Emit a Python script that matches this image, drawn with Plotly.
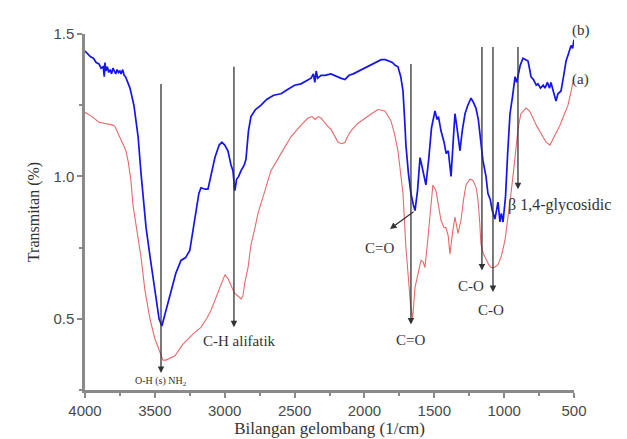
import plotly.graph_objects as go

# Blue spectrum (b)
blue_wn = [4000,3960,3940,3920,3900,3885,3870,3862,3857,3850,3840,3830,3820,3810,3800,3790,3780,3770,3760,3750,
           3742,3730,3720,3710,3700,3678,3650,3620,3599,3585,3563,3535,
           3500,3470,3450,3420,3385,3350,3313,3280,3250,3213,3185,3170,3140,3120,3100,3070,3040,3020,3000,2977,
           2955,2941,2930,2927,2915,2900,2883,2860,2848,2830,2812,2780,2740,2700,2650,2597,2550,2500,2454,2420,
           2382,2365,2355,2345,2335,2310,2282,2240,2200,2170,2140,2110,2080,2040,2000,1950,1900,1880,1850,1820,
           1800,1780,1760,1740,1724,1710,1703,1685,1667,1650,1638,1620,1602,1590,1581,1560,1540,1520,1495,1480,
           1470,1452,1430,1415,1400,1380,1365,1352,1340,1316,1300,1280,1260,1237,1220,1202,1185,1173,1160,1152,
           1130,1116,1100,1085,1066,1055,1044,1030,1020,1008,990,975,958,940,922,910,901,885,865,845,
           829,815,808,790,770,758,740,720,708,690,675,665,650,640,629,615,593,575,557,540,
           521,510,500]
blue_t = [1.44,1.42,1.415,1.40,1.395,1.38,1.385,1.35,1.40,1.37,1.385,1.365,1.375,1.36,1.38,1.37,1.36,1.375,1.365,1.37,
          1.36,1.375,1.355,1.35,1.335,1.31,1.25,1.14,1.01,0.94,0.82,0.72,
          0.60,0.50,0.475,0.53,0.60,0.66,0.705,0.715,0.74,0.86,0.94,0.96,0.955,0.955,1.00,1.066,1.11,1.12,1.11,1.09,
          1.04,1.02,0.96,0.95,0.99,1.00,1.02,1.04,1.06,1.16,1.21,1.235,1.25,1.27,1.285,1.29,1.305,1.32,1.325,1.335,
          1.345,1.36,1.33,1.37,1.345,1.355,1.355,1.36,1.35,1.345,1.34,1.355,1.36,1.37,1.38,1.39,1.405,1.41,1.41,1.405,
          1.40,1.39,1.385,1.35,1.30,1.18,1.11,1.01,0.94,0.90,0.88,0.95,1.066,1.04,1.02,0.97,1.06,1.17,1.23,1.20,
          1.21,1.16,1.12,1.08,1.09,1.00,1.12,1.22,1.18,1.09,1.16,1.22,1.25,1.275,1.26,1.24,1.20,1.14,1.10,1.056,
          1.00,0.94,0.92,0.88,0.85,0.88,0.91,0.84,0.87,0.84,0.93,1.08,1.22,1.28,1.35,1.33,1.35,1.39,1.415,1.41,
          1.405,1.37,1.35,1.34,1.32,1.325,1.31,1.32,1.31,1.33,1.31,1.33,1.30,1.28,1.265,1.29,1.30,1.35,1.405,1.43,
          1.46,1.45,1.48]

# Red spectrum (a)
red_wn = [4000,3950,3900,3857,3800,3785,3742,3707,3690,3671,3657,3642,3620,3600,3571,3535,3500,3463,3442,3420,
          3390,3356,3300,3263,3220,3170,3130,3098,3050,3020,2998,2975,2955,2930,2905,2883,2870,2855,2833,2812,
          2783,2762,2712,2669,2597,2525,2454,2404,2375,2354,2330,2311,2270,2239,2200,2189,2160,2139,2120,2096,
          2050,1996,1950,1903,1853,1810,1785,1760,1740,1724,1703,1688,1670,1655,1645,1638,1617,1595,1580,1567,
          1550,1531,1510,1488,1470,1452,1430,1416,1400,1388,1370,1352,1330,1309,1290,1273,1245,1223,1200,1187,
          1175,1166,1150,1137,1110,1094,1070,1044,1020,994,970,951,930,915,900,880,844,820,808,770,
          737,700,672,650,629,600,579,543,520,500]
red_t = [1.225,1.21,1.19,1.185,1.18,1.175,1.125,1.09,1.05,0.985,0.90,0.85,0.78,0.72,0.60,0.50,0.43,0.38,0.355,0.355,
         0.362,0.37,0.41,0.43,0.45,0.47,0.50,0.53,0.59,0.63,0.655,0.64,0.62,0.59,0.58,0.57,0.58,0.63,0.68,0.76,
         0.82,0.87,0.95,1.02,1.08,1.14,1.18,1.205,1.21,1.20,1.21,1.205,1.18,1.165,1.13,1.12,1.115,1.12,1.14,1.16,
         1.185,1.205,1.22,1.235,1.23,1.195,1.15,1.09,1.00,0.94,0.75,0.647,0.55,0.50,0.55,0.61,0.657,0.706,0.70,0.68,
         0.76,0.87,0.97,0.95,0.89,0.846,0.82,0.82,0.79,0.727,0.80,0.857,0.80,0.846,0.92,0.97,0.99,0.986,0.96,0.916,
         0.84,0.762,0.73,0.717,0.69,0.68,0.68,0.69,0.72,0.776,0.86,0.94,1.03,1.11,1.17,1.22,1.24,1.23,1.22,1.18,
         1.15,1.12,1.11,1.13,1.15,1.18,1.206,1.25,1.30,1.35]

x_tickvals = [4000, 3500, 3000, 2500, 2000, 1500, 1000, 500]
y_tickvals = [0.5, 1.0, 1.5]
y_ticktext = ["0.5", "1.0", "1.5"]

# Band markers: wavenumber, line top, arrow tip
band_wn = [3456, 2934, 1667, 1159, 1080, 901]
band_top = [1.33, 1.39, 1.40, 1.46, 1.46, 1.46]
band_tip = [0.31, 0.47, 0.48, 0.67, 0.594, 0.955]

serif = "Liberation Serif"

fig = go.Figure()
fig.add_trace(go.Scatter(x=red_wn, y=red_t, mode="lines",
                         line=dict(color="#e66a6c", width=1.1), showlegend=False))
fig.add_trace(go.Scatter(x=blue_wn, y=blue_t, mode="lines",
                         line=dict(color="#1414ee", width=1.7), showlegend=False))

for wn, top, tip in zip(band_wn, band_top, band_tip):
    fig.add_annotation(x=wn, y=tip, ax=wn, ay=top, xref="x", yref="y", axref="x", ayref="y",
                       showarrow=True, arrowhead=2, arrowsize=1, arrowwidth=1.3,
                       arrowcolor="#333333", text="")

# slanted C=O arrow
fig.add_annotation(x=1817, y=0.815, ax=1638, ay=0.88, xref="x", yref="y", axref="x", ayref="y",
                   showarrow=True, arrowhead=2, arrowsize=1, arrowwidth=1.3,
                   arrowcolor="#333333", text="")

labels = [
    (3456, 0.28, "O-H (s) NH<sub>2</sub>", 10, "center"),
    (2891, 0.423, "C-H alifatik", 15, "center"),
    (1667, 0.427, "C=O", 15, "center"),
    (1889, 0.748, "C=O", 15, "center"),
    (1237, 0.615, "C-O", 15, "center"),
    (1094, 0.53, "C-O", 15, "center"),
    (985, 0.90, "β 1,4-glycosidic", 16, "left"),
]
for x, y, t, s, anc in labels:
    fig.add_annotation(x=x, y=y, xref="x", yref="y", text=t, showarrow=False,
                       xanchor=anc, yanchor="middle",
                       font=dict(family=serif, size=s, color="#333333"))

for y, t in [(1.011, "(b)"), (0.872, "(a)")]:
    fig.add_annotation(x=0.992, y=y, xref="paper", yref="paper", text=t, showarrow=False,
                       xanchor="left", yanchor="middle",
                       font=dict(family=serif, size=15, color="#333333"))

fig.update_layout(
    width=627, height=439,
    margin=dict(l=77, r=61, t=26, b=55),
    plot_bgcolor="white", paper_bgcolor="white",
    showlegend=False,
)
fig.update_xaxes(range=[4000, 500], tickvals=x_tickvals, showgrid=False, zeroline=False,
                 showline=True, linecolor="#8a8a8a", linewidth=2.5,
                 ticks="outside", ticklen=5, tickwidth=1.5, tickcolor="#8a8a8a",
                 minor=dict(dtick=250, ticks="outside", ticklen=3, tickcolor="#8a8a8a", showgrid=False),
                 tickfont=dict(family="Liberation Sans", size=15, color="#4a4a4a"),
                 title=dict(text="Bilangan gelombang (1/cm)", standoff=4,
                            font=dict(family=serif, size=17, color="#333333")))
fig.update_yaxes(range=[0.25, 1.5], tickvals=y_tickvals, ticktext=y_ticktext, showgrid=False, zeroline=False,
                 showline=True, linecolor="#8a8a8a", linewidth=2.5,
                 ticks="outside", ticklen=5, tickwidth=1.5, tickcolor="#8a8a8a",
                 minor=dict(dtick=0.25, tick0=0.25, ticks="outside", ticklen=3, tickcolor="#8a8a8a", showgrid=False),
                 tickfont=dict(family="Liberation Sans", size=15, color="#4a4a4a"),
                 title=dict(text="Transmitan (%)", standoff=10,
                            font=dict(family=serif, size=16, color="#333333")))

fig.write_html("out.html")
